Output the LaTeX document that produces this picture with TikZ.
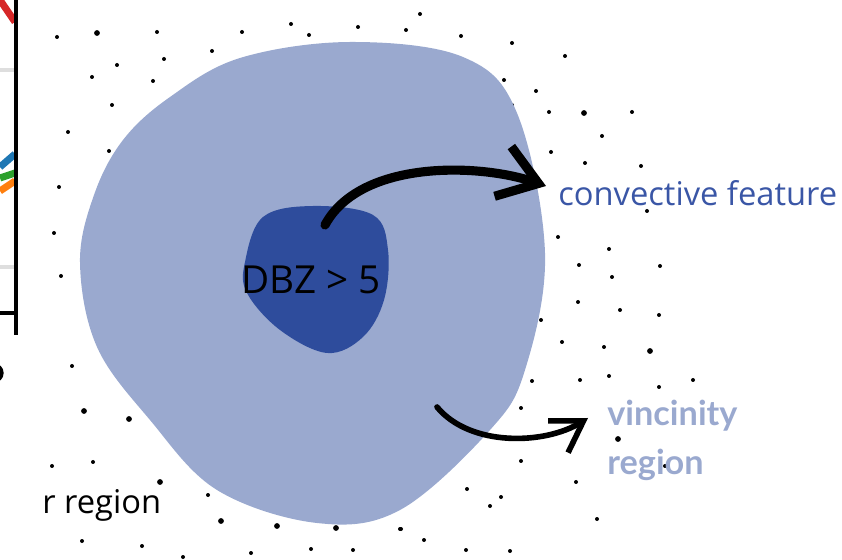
\documentclass[tikz,border=0pt]{standalone}
\usepackage{fontspec}
\setmainfont{Open Sans}
\newfontfamily\boldlabel{Lato}
\usepackage{xcolor}
\usetikzlibrary{arrows.meta}
\usetikzlibrary{math}
\definecolor{vicblue}{RGB}{154,169,207}
\definecolor{corblue}{RGB}{46,76,156}
\definecolor{txtblue}{RGB}{58,86,166}
\definecolor{mplred}{RGB}{214,39,40}
\definecolor{mplblue}{RGB}{31,119,180}
\definecolor{mplgreen}{RGB}{44,160,44}
\definecolor{mplorange}{RGB}{255,127,14}
\tikzset{
  dot/.style={fill=black},
  bend arrow/.style={line cap=round, line join=round},
  label txt/.style={anchor=west, inner sep=0pt}
}

\begin{document}
\begin{tikzpicture}[x=0.02cm, y=-0.02cm]
\tikzmath{
\rs=2;
\rl=2.9;
}
\useasboundingbox (0,0) rectangle (842,560);

\draw[mplred, line width=4] (0,0) -- (15,22);
\draw[black!13, line width=2] (0,70) -- (15,70);
\draw[black!13, line width=2] (0,267) -- (15,267);
\draw[mplblue, line width=4] (0,167) -- (15,154);
\draw[mplgreen, line width=4] (0,178) -- (15,173);
\draw[mplorange, line width=4] (0,191) -- (15,181);
\draw[black, line width=2] (0,313) -- (16,313);
\draw[black, line width=2] (16,0) -- (16,335);
\draw[black, line width=3] (-6,373) circle (7);

\foreach \px/\py in {57/37,157/32,242/32,291/24,309/35,212/51,164/59,117/65,92/77,153/81,112/105,68/132,
  358/27,420/14,406/30,461/36,512/43,565/56,504/80,536/91,512/105,549/112,632/112,602/136,551/152,585/163,641/166,
  109/151,59/187,54/233,61/276,72/366,
  647/211,558/237,609/249,579/265,660/266,612/277,578/302,620/310,659/315,541/320,562/342,604/347,532/381,580/380,609/376,659/387,693/380,
  521/408,521/461,576/482,665/466,467/489,501/497,490/506,597/519,401/529,424/540,466/550,510/551,
  208/495,400/529,142/546,183/557,251/553,311/549,353/550,52/466,93/462,82/541}
  \fill[dot] (\px,\py) circle (\rs);
\foreach \px/\py in {97/33,584/113,84/411,129/419,650/351,618/439,160/482,221/521,277/526,336/528}
  \fill[dot] (\px,\py) circle (\rl);

\fill[vicblue] plot[smooth cycle, tension=0.6] coordinates {(350,42) (463,57) (517,113) (545,253) (525,370) (490,430) (400,510) (317,523) (217,490) (150,420) (97,347) (80,263) (94,195) (123,140) (170,97) (240,58)};
\fill[corblue] plot[smooth cycle, tension=0.6] coordinates {(313,206) (373,215) (388,250) (384,300) (363,337) (327,353) (280,330) (247,293) (245,262) (263,217)};

\node[font=\fontsize{22}{26}\selectfont] (dbz) at (311,280) {DBZ > 5};
\coordinate (core) at (325,225);
\coordinate (convtip) at (546,186);
\coordinate (rim) at (437,407);
\coordinate (victip) at (588,418);

\node[label txt, text=txtblue, font=\fontsize{18.6}{22}\selectfont] (conv) at (558,193) {convective feature};
\node[label txt, text=vicblue, font=\boldlabel\fontsize{19.5}{28}\selectfont\bfseries, align=left] (vic) at (607,440) {vincinity\\region};
\node[label txt, font=\fontsize{18.6}{22}\selectfont] (rreg) at (42,505) {r region};

\draw[bend arrow, line width=5.2, -{Straight Barb[length=0.75cm, width=1.05cm]}] (core) .. controls (360,160) and (478,163) .. (convtip);
\draw[bend arrow, line width=3.2, -{Straight Barb[length=0.6cm, width=0.75cm]}] (rim) .. controls (470,447) and (545,445) .. (victip);
\end{tikzpicture}
\end{document}
